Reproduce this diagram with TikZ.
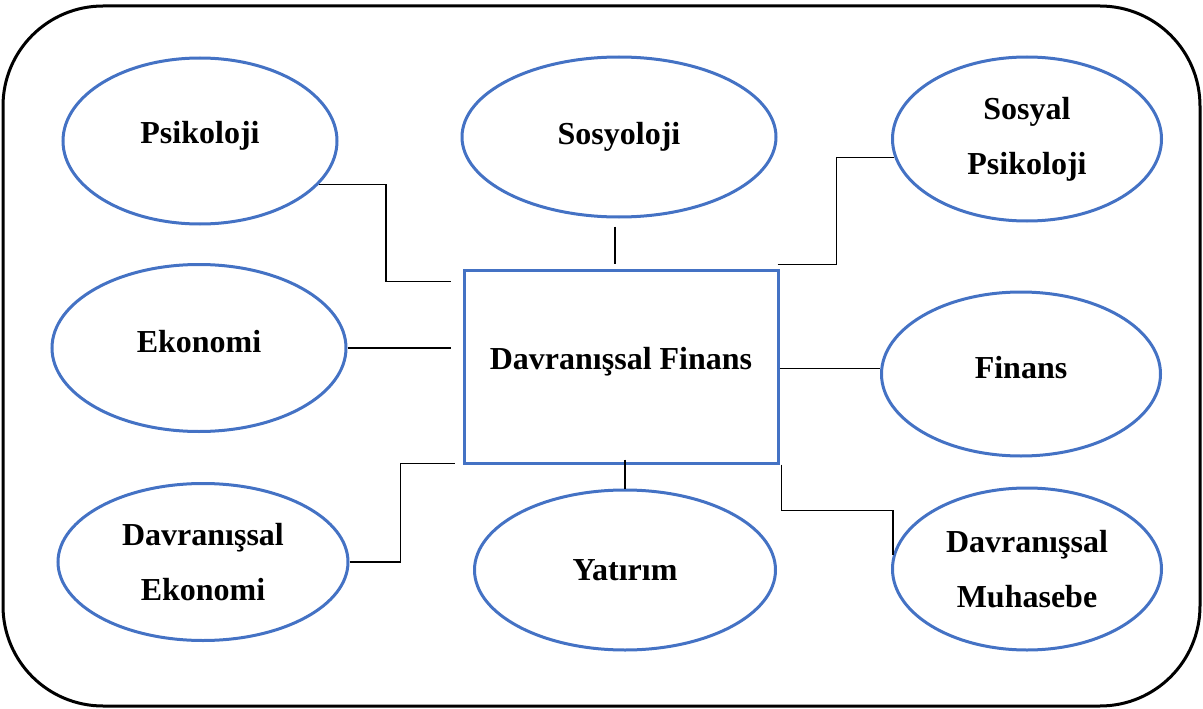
\documentclass[tikz,border=0pt]{standalone}
\usepackage{fontspec}
\setmainfont{Liberation Serif}
\usepackage{xcolor}
\usetikzlibrary{shapes.geometric, calc}
\definecolor{wordblue}{HTML}{4472C4}

\begin{document}
\begin{tikzpicture}[
    x=1pt, y=-1pt,
    every node/.style={font=\bfseries\fontsize{32}{55}\selectfont, align=center},
    field/.style={ellipse, draw=wordblue, line width=3pt, inner sep=0pt},
    core/.style={rectangle, draw=wordblue, line width=3pt, inner sep=0pt,
                 minimum width=314pt, minimum height=193pt},
    link/.style={black, line width=1.4pt},
    frame/.style={black, line width=3pt, rounded corners=100pt},
]
\useasboundingbox (0,0) rectangle (1203,709);
% outer frame
\draw[frame] (3,6) rectangle (1200,706);
% centre box
\node[core, text depth=17pt] (df) at (621,366.5) {Davranışsal Finans};
% surrounding fields
\node[field, minimum width=274pt, minimum height=166pt, text depth=17pt] (psi) at (200,141) {Psikoloji};
\node[field, minimum width=314pt, minimum height=160pt] (sos)  at (619,137) {Sosyoloji};
\node[field, minimum width=269pt, minimum height=164pt] (spsi) at (1027,139) {Sosyal\\Psikoloji};
\node[field, minimum width=294pt, minimum height=167pt, text depth=14pt] (eko) at (199,348) {Ekonomi};
\node[field, minimum width=279pt, minimum height=164pt, text depth=14pt] (fin) at (1021,374) {Finans};
\node[field, minimum width=290pt, minimum height=157pt] (deko) at (203,562) {Davranışsal\\Ekonomi};
\node[field, minimum width=301pt, minimum height=160pt] (yat)  at (625,570) {Yatırım};
\node[field, minimum width=269pt, minimum height=162pt] (dmuh) at (1027,569) {Davranışsal\\Muhasebe};
% connectors
\draw[link] (psi.-20) -- ++(67,0) |- ([xshift=-12pt,yshift=-13pt]df.north west);
\draw[link] ([xshift=-4pt,yshift=-8pt]sos.south) -- ([xshift=-6pt,yshift=5pt]df.north);
\draw[link] ([xshift=-2pt,yshift=4pt]df.north east) -- ++(59,0) |- (spsi.188);
\draw[link, shorten >=12pt] (eko.east) -- (eko.east -| df.west);
\draw[link] ([yshift=-2pt]df.east) -- ([yshift=-2pt]df.east -| fin.west);
\draw[link] (deko.east) -- ++(51,0) |- ([xshift=-8pt,yshift=1pt]df.south west);
\draw[link] ([xshift=4pt,yshift=5pt]df.south) -- (yat.north);
\draw[link] ([xshift=2pt]df.south east) -- ++(0,46) -| (dmuh.174);
\end{tikzpicture}
\end{document}
